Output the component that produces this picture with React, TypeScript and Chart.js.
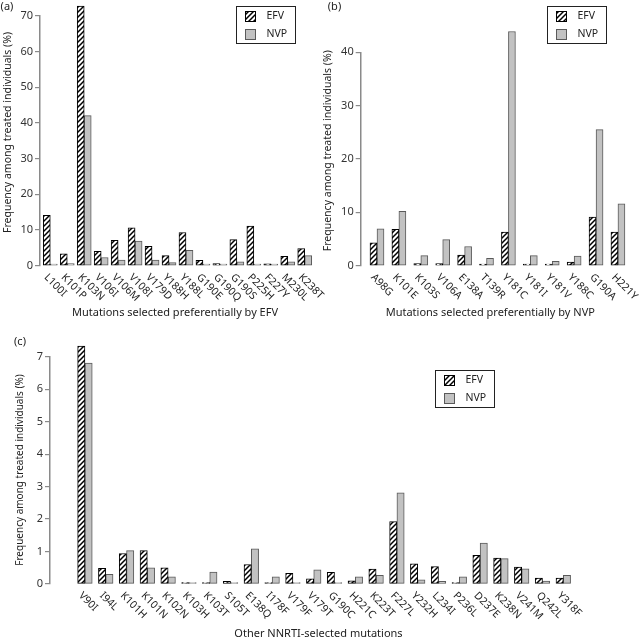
import React, { useEffect, useRef } from "react";
import { Chart, registerables } from "chart.js";
Chart.register(...registerables);

// ---------- data ----------
const mutationsA = ["L100I", "K101P", "K103N", "V106I", "V106M", "V108I", "V179D", "Y188H", "Y188L", "G190E", "G190Q", "G190S", "P225H", "F227Y", "M230L", "K238T"];
const efvA = [14.1, 3.3, 72.7, 4.0, 7.1, 10.6, 5.4, 2.8, 9.3, 1.5, 0.6, 7.3, 11.1, 0.5, 2.6, 4.8];
const nvpA = [0.2, 0.6, 42.0, 2.3, 1.6, 6.9, 1.6, 0.9, 4.3, 0.4, 0.3, 1.1, 0.4, 0.2, 1.1, 2.8];

const mutationsB = ["A98G", "K101E", "K103S", "V106A", "E138A", "T139R", "Y181C", "Y181I", "Y181V", "Y188C", "G190A", "H221Y"];
const efvB = [4.3, 6.8, 0.4, 0.4, 2.0, 0.3, 6.3, 0.05, 0.05, 0.7, 9.1, 6.3];
const nvpB = [6.9, 10.2, 1.9, 4.9, 3.6, 1.4, 43.9, 1.9, 0.8, 1.8, 25.5, 11.6];

const mutationsC = ["V90I", "I94L", "K101H", "K101N", "K102N", "K103H", "K103T", "S105T", "E138Q", "I178F", "V179F", "V179T", "G190C", "H221C", "K223T", "F227L", "Y232H", "L234I", "P236L", "D237E", "K238N", "V241M", "Q242L", "Y318F"];
const efvC = [7.33, 0.48, 0.94, 1.03, 0.5, 0.01, 0.01, 0.08, 0.6, 0.01, 0.33, 0.16, 0.36, 0.1, 0.46, 1.92, 0.62, 0.54, 0.02, 0.88, 0.8, 0.52, 0.18, 0.18];
const nvpC = [6.8, 0.3, 1.03, 0.5, 0.22, 0.01, 0.37, 0.02, 1.08, 0.22, 0.04, 0.44, 0.02, 0.22, 0.27, 2.81, 0.13, 0.08, 0.22, 1.26, 0.78, 0.47, 0.09, 0.27];

const seriesNames = ["EFV", "NVP"];
const yTitle = "Frequency among treated individuals (%)";
const xTitleA = "Mutations selected preferentially by EFV";
const xTitleB = "Mutations selected preferentially by NVP";
const xTitleC = "Other NNRTI-selected mutations";

const FONT = "'Noto Sans', 'DejaVu Sans', sans-serif";
const TEXT = "#222";
const AXIS = "#8a8a8a";
const GREY = "#c2c2c2";
const GREY_BORDER = "#5a5a5a";

function makeHatch(): CanvasPattern | string {
  const c = document.createElement("canvas");
  c.width = 5;
  c.height = 5;
  const g = c.getContext("2d");
  if (!g) return "#666";
  g.fillStyle = "#fff";
  g.fillRect(0, 0, 5, 5);
  g.strokeStyle = "#000";
  g.lineWidth = 1.5;
  g.beginPath();
  g.moveTo(-1, 6);
  g.lineTo(6, -1);
  g.moveTo(-1, 1);
  g.lineTo(1, -1);
  g.moveTo(4, 6);
  g.lineTo(6, 4);
  g.stroke();
  return g.createPattern(c, "repeat") || "#666";
}

type PanelProps = {
  left: number;
  top: number;
  width: number;
  height: number;
  labels: string[];
  efv: number[];
  nvp: number[];
  xMin: number;
  yMax: number;
  yStep: number;
  yWidth: number;
  padTop: number;
  padRight: number;
  xHeight: number;
  barW: number;
  panel: string;
  panelPos: [number, number];
  yTitlePos: [number, number];
  yTitleSize: number;
  xTitle: string;
  xTitlePos: [number, number];
  legendPos: [number, number];
};

function Panel(p: PanelProps) {
  const ref = useRef<HTMLCanvasElement | null>(null);
  useEffect(() => {
    const canvas = ref.current;
    if (!canvas) return;
    const hatch = makeHatch();

    const textPlugin = {
      id: "panelText",
      afterDraw(chart: any) {
        const ctx = chart.ctx as CanvasRenderingContext2D;
        const xs = chart.scales.x;
        const ys = chart.scales.y;
        ctx.save();
        ctx.fillStyle = TEXT;
        // panel label
        ctx.font = `11px ${FONT}`;
        ctx.textAlign = "center";
        ctx.textBaseline = "middle";
        ctx.fillText(p.panel, p.panelPos[0], p.panelPos[1]);
        // y title
        ctx.save();
        ctx.translate(p.yTitlePos[0], p.yTitlePos[1]);
        ctx.rotate(-Math.PI / 2);
        ctx.font = `${p.yTitleSize}px ${FONT}`;
        ctx.fillText(yTitle, 0, 0);
        ctx.restore();
        // x title
        ctx.font = `11px ${FONT}`;
        ctx.fillText(p.xTitle, p.xTitlePos[0], p.xTitlePos[1]);
        // x tick labels, rotated 45 degrees clockwise
        const y0 = ys.getPixelForValue(0);
        ctx.font = `10.5px ${FONT}`;
        ctx.textAlign = "left";
        ctx.textBaseline = "middle";
        p.labels.forEach((lab, i) => {
          const px = xs.getPixelForValue(i);
          ctx.save();
          ctx.translate(px - 4.5, y0 + 10);
          ctx.rotate(Math.PI / 4);
          ctx.fillText(lab, 0, 0);
          ctx.restore();
        });
        // legend
        const [lx, ly] = p.legendPos;
        ctx.strokeStyle = "#222";
        ctx.lineWidth = 1;
        ctx.strokeRect(lx + 0.5, ly + 0.5, 59, 37);
        chart.data.datasets.forEach((ds: any, i: number) => {
          const sy = ly + 5.5 + i * 18;
          ctx.fillStyle = ds.backgroundColor;
          ctx.fillRect(lx + 9.5, sy, 10, 10);
          ctx.strokeStyle = ds.borderColor;
          ctx.lineWidth = 1;
          ctx.strokeRect(lx + 9.5, sy, 10, 10);
          ctx.fillStyle = TEXT;
          ctx.font = `10.5px ${FONT}`;
          ctx.textAlign = "left";
          ctx.textBaseline = "middle";
          ctx.fillText(ds.label, lx + 30.5, sy + 5);
        });
        ctx.restore();
      },
    };

    const chart = new Chart(canvas, {
      type: "bar",
      data: {
        datasets: [
          {
            label: seriesNames[0],
            data: p.efv.map((y, i) => ({ x: i, y })),
            backgroundColor: hatch as any,
            borderColor: "#000",
            borderWidth: 1,
            borderSkipped: false,
            barThickness: p.barW,
            minBarLength: 1.5,
            clip: false as any,
          },
          {
            label: seriesNames[1],
            data: p.nvp.map((y, i) => ({ x: i, y })),
            backgroundColor: GREY,
            borderColor: GREY_BORDER,
            borderWidth: 1,
            borderSkipped: false,
            barThickness: p.barW,
            minBarLength: 1.5,
            clip: false as any,
          },
        ],
      },
      options: {
        animation: false,
        responsive: false,
        maintainAspectRatio: false,
        events: [],
        layout: { padding: { left: 0, right: p.padRight, top: p.padTop, bottom: 0 } },
        plugins: { legend: { display: false }, tooltip: { enabled: false }, title: { display: false } },
        scales: {
          x: {
            type: "linear",
            min: p.xMin,
            max: p.labels.length - 0.5,
            offset: false,
            grid: { display: false },
            border: { display: false },
            ticks: { display: false },
            afterFit: (s: any) => {
              s.height = p.xHeight;
            },
          },
          y: {
            min: 0,
            max: p.yMax,
            ticks: {
              stepSize: p.yStep,
              color: "#333",
              font: { family: FONT, size: 11 },
              padding: 2,
            },
            grid: { drawOnChartArea: false, drawTicks: true, tickLength: 5, color: AXIS, lineWidth: 1.2 },
            border: { display: true, color: AXIS, width: 1.5 },
            afterFit: (s: any) => {
              s.width = p.yWidth;
            },
          },
        },
      } as any,
      plugins: [textPlugin],
    });
    return () => chart.destroy();
  }, []);
  return (
    <canvas
      ref={ref}
      width={p.width}
      height={p.height}
      style={{ position: "absolute", left: p.left, top: p.top, width: p.width, height: p.height }}
    />
  );
}

export default function App() {
  return (
    <div style={{ position: "absolute", left: 0, top: 0, width: 644, height: 642, background: "#fff" }}>
      <Panel
        left={0} top={0} width={344} height={330}
        labels={mutationsA} efv={efvA} nvp={nvpA}
        xMin={-0.607} yMax={70} yStep={10}
        yWidth={40} padTop={15.7} padRight={30.8} xHeight={64.3} barW={7}
        panel="(a)" panelPos={[7, 6.5]}
        yTitlePos={[8, 132.5]} yTitleSize={10.5}
        xTitle={xTitleA} xTitlePos={[175, 313]}
        legendPos={[236, 6]}
      />
      <Panel
        left={320} top={0} width={324} height={330}
        labels={mutationsB} efv={efvB} nvp={nvpB}
        xMin={-0.744} yMax={40} yStep={10}
        yWidth={40.7} padTop={52.3} padRight={15.1} xHeight={64.3} barW={7}
        panel="(b)" panelPos={[14.5, 7]}
        yTitlePos={[8, 150.7]} yTitleSize={10.5}
        xTitle={xTitleB} xTitlePos={[170.3, 313]}
        legendPos={[227, 6]}
      />
      <Panel
        left={0} top={330} width={644} height={312}
        labels={mutationsC} efv={efvC} nvp={nvpC}
        xMin={-1.68} yMax={7} yStep={1}
        yWidth={50} padTop={26.7} padRight={70.3} xHeight={58} barW={7.3}
        panel="(c)" panelPos={[20, 12]}
        yTitlePos={[20, 140]} yTitleSize={10}
        xTitle={xTitleC} xTitlePos={[318.5, 304]}
        legendPos={[435, 40]}
      />
    </div>
  );
}
